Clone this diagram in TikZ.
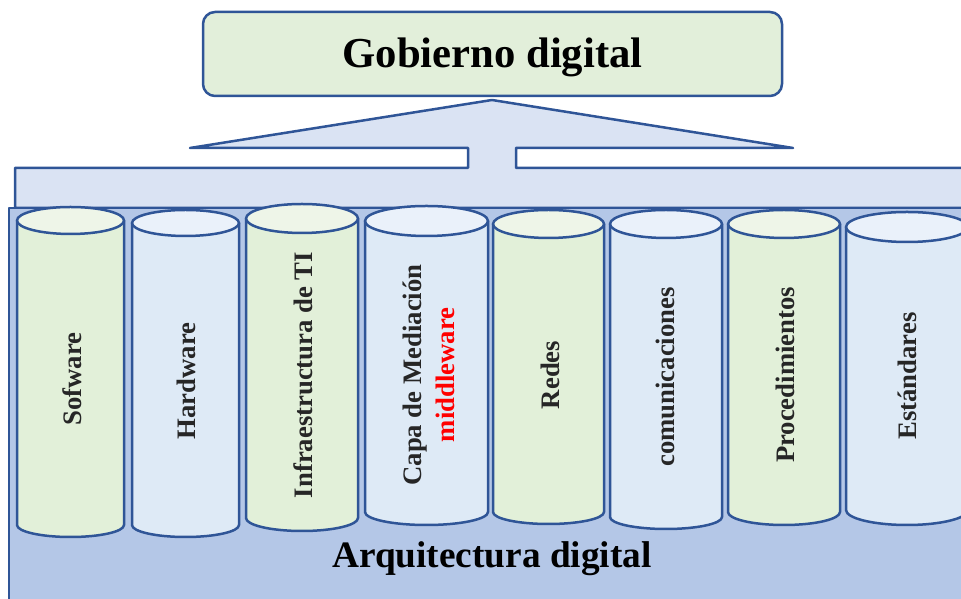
\documentclass[tikz,border=0pt]{standalone}
\usepackage{fontspec}
\setmainfont{Liberation Serif}
\definecolor{bord}{HTML}{2F5597}
\definecolor{govfill}{HTML}{E2EFDA}
\definecolor{rooffill}{HTML}{DAE3F3}
\definecolor{basefill}{HTML}{B4C7E7}
\definecolor{gbody}{HTML}{E2F0D9}
\definecolor{gtop}{HTML}{EEF5E8}
\definecolor{bbody}{HTML}{DEEAF6}
\definecolor{btop}{HTML}{EAF1FA}
\definecolor{labtext}{HTML}{262626}
\tikzset{
  outl/.style={draw=bord, line width=2.5pt, line join=round},
  govbox/.style={outl, fill=govfill, rounded corners=12pt, minimum width=579pt, minimum height=84pt, inner sep=0pt},
  govtext/.style={font=\bfseries\fontsize{42.7}{48}\selectfont, text=black, inner sep=0pt},
  lab/.style={rotate=90, font=\bfseries\fontsize{26.7}{33}\selectfont, text=labtext, inner sep=0pt, align=center},
  bigtitle/.style={font=\bfseries\fontsize{37.3}{42}\selectfont, text=black, inner sep=0pt}
}
\begin{document}
\begin{tikzpicture}[x=1pt,y=1pt]
\useasboundingbox (0,0) rectangle (961,599);
\clip (0,0) rectangle (961,599);
% roof and band
\draw[outl, fill=rooffill] (190,451) -- (492,499) -- (793,451) -- (516,451) -- (516,431) -- (990,431) -- (990,391) -- (15,391) -- (15,431) -- (468,431) -- (468,451) -- cycle;
% base block
\draw[outl, fill=basefill] (9,391) rectangle (990,-20);
% top box
\node[govbox] (gob) at (492.5,545) {};
\node[govtext, anchor=base] (gobt) at (492.5,531) {Gobierno digital};
% cylinders
\foreach \xa/\xb/\yc/\rt/\yb/\rb/\bc/\tc in {
  17/124/220.5/13.5/525/12/gbody/gtop,
  132/239/223/13/525/12/bbody/btop,
  246/358/218.5/14.5/518/13/gbody/gtop,
  365/488/221/15/512/13/bbody/btop,
  493/604/224/14/512/12/gbody/gtop,
  610/722/224/14/517/12/bbody/btop,
  728/840/224/14/512/13/gbody/gtop,
  846/968/227/15/510/15/bbody/btop}
{
  \pgfmathsetmacro\rx{(\xb-\xa)/2}
  \pgfmathsetmacro\cx{(\xb+\xa)/2}
  \pgfmathsetmacro\Yc{599-\yc}
  \pgfmathsetmacro\Yb{599-\yb}
  \draw[outl, fill=\bc] (\xa,\Yc) -- (\xa,\Yb) arc[start angle=180, end angle=360, x radius=\rx, y radius=\rb] -- (\xb,\Yc) -- cycle;
  \draw[outl, fill=\tc] (\cx,\Yc) ellipse [x radius=\rx, y radius=\rt];
}
% labels
\node[lab] (l1) at (72,220) {Sofware};
\node[lab] (l2) at (186,218) {Hardware};
\node[lab] (l3) at (303,224) {Infraestructura de TI};
\node[lab] (l4) at (429,224) {Capa de Mediación\\\textcolor{red}{middleware}};
\node[lab] (l5) at (550,224) {Redes};
\node[lab] (l6) at (665,222) {comunicaciones};
\node[lab] (l7) at (785,224) {Procedimientos};
\node[lab] (l8) at (907,223) {Estándares};
\node[bigtitle, anchor=base] (arq) at (492,31) {Arquitectura digital};
\end{tikzpicture}
\end{document}
